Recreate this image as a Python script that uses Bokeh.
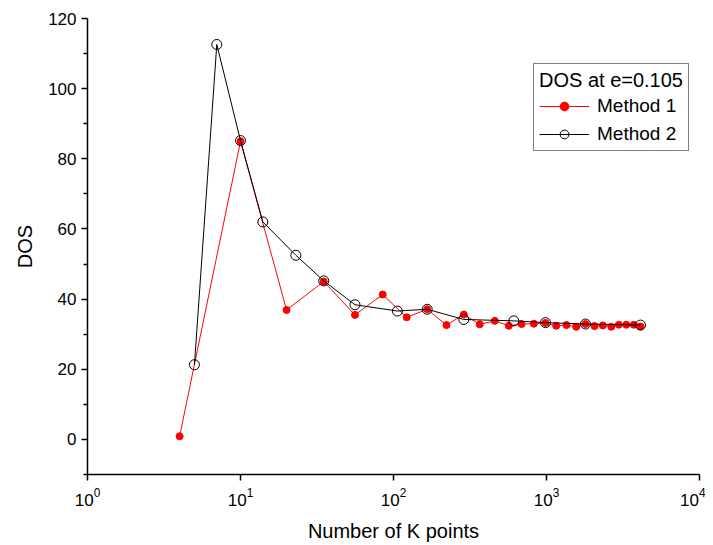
from bokeh.plotting import figure
from bokeh.models import Range1d, Legend, LegendItem, FixedTicker
from bokeh.embed import file_html
from bokeh.resources import INLINE

# Method 1 (red filled dots)
m1_k = [4, 10, 20, 35, 56, 85, 122, 166, 222, 288, 366, 459, 567, 687, 827, 985,
        1157, 1351, 1564, 1798, 2060, 2336, 2649, 2970, 3321, 3724, 4114]
m1_dos = [0.9, 85.0, 36.9, 45.0, 35.5, 41.3, 34.8, 37.1, 32.6, 35.6, 32.8, 33.8, 32.4,
          32.9, 33.0, 33.2, 32.4, 32.6, 32.1, 32.9, 32.3, 32.5, 32.1, 32.7, 32.7, 32.7, 32.2]

# Method 2 (open circles)
m2_k = [5, 7, 10, 14, 23, 35, 56, 106, 166, 288, 611, 985, 1798, 4114]
m2_dos = [21.3, 112.6, 85.2, 62.0, 52.5, 45.2, 38.4, 36.6, 37.1, 34.2, 33.8, 33.3, 32.9, 32.6]

y_ticks = [0, 20, 40, 60, 80, 100, 120]
y_minor = [-10, 10, 30, 50, 70, 90, 110]
x_ticks = [1, 10, 100, 1000, 10000]

FONT = "Liberation Sans"

p = figure(width=705, height=545, x_axis_type="log",
           x_range=Range1d(1, 10000), y_range=Range1d(-10, 120),
           output_backend="svg", toolbar_location=None,
           min_border_left=87, min_border_right=6, min_border_top=18, min_border_bottom=71,
           x_axis_label="Number of K points", y_axis_label="DOS")

p.outline_line_color = None
p.xgrid.visible = False
p.ygrid.visible = False
p.background_fill_color = "white"

for ax in (p.xaxis[0], p.yaxis[0]):
    ax.axis_line_width = 1.5
    ax.axis_line_color = "black"
    ax.major_tick_line_color = "black"
    ax.major_tick_line_width = 1.5
    ax.minor_tick_line_color = "black"
    ax.minor_tick_line_width = 1.5
    ax.major_tick_out = 6
    ax.major_tick_in = 0
    ax.minor_tick_out = 4
    ax.minor_tick_in = 0
    ax.major_label_text_font = FONT
    ax.major_label_text_font_size = "17px"
    ax.major_label_text_color = "black"
    ax.axis_label_text_font = FONT
    ax.axis_label_text_font_size = "20px"
    ax.axis_label_text_font_style = "normal"
    ax.axis_label_text_color = "black"

p.yaxis[0].ticker = FixedTicker(ticks=y_ticks, minor_ticks=y_minor)
p.yaxis[0].axis_label_standoff = 9
p.yaxis[0].major_label_standoff = 5
p.xaxis[0].ticker = FixedTicker(ticks=x_ticks, minor_ticks=[])
p.xaxis[0].axis_label_standoff = 11
p.xaxis[0].major_label_standoff = 7

l1 = p.line(m1_k, m1_dos, line_color="red", line_width=1)
s1 = p.scatter(m1_k, m1_dos, marker="circle", size=7, fill_color="red", line_color="red")
l2 = p.line(m2_k, m2_dos, line_color="black", line_width=1)
s2 = p.scatter(m2_k, m2_dos, marker="circle", size=10, fill_color=None,
               line_color="black", line_width=1)

legend = Legend(items=[LegendItem(label="Method 1", renderers=[l1, s1]),
                       LegendItem(label="Method 2", renderers=[l2, s2])],
                location=(446, 323))
legend.title = "DOS at e=0.105"
legend.title_text_font = FONT
legend.title_text_font_size = "20px"
legend.title_text_font_style = "normal"
legend.title_text_color = "black"
legend.title_standoff = 3
legend.label_text_font = FONT
legend.label_text_font_size = "19px"
legend.label_text_color = "black"
legend.glyph_width = 50
legend.glyph_height = 22
legend.label_standoff = 8
legend.spacing = 6
legend.padding = 5
legend.margin = 0
legend.border_line_color = "black"
legend.border_line_width = 1
legend.background_fill_alpha = 1
p.add_layout(legend, "center")

open("out.html", "w").write(file_html(p, INLINE))
